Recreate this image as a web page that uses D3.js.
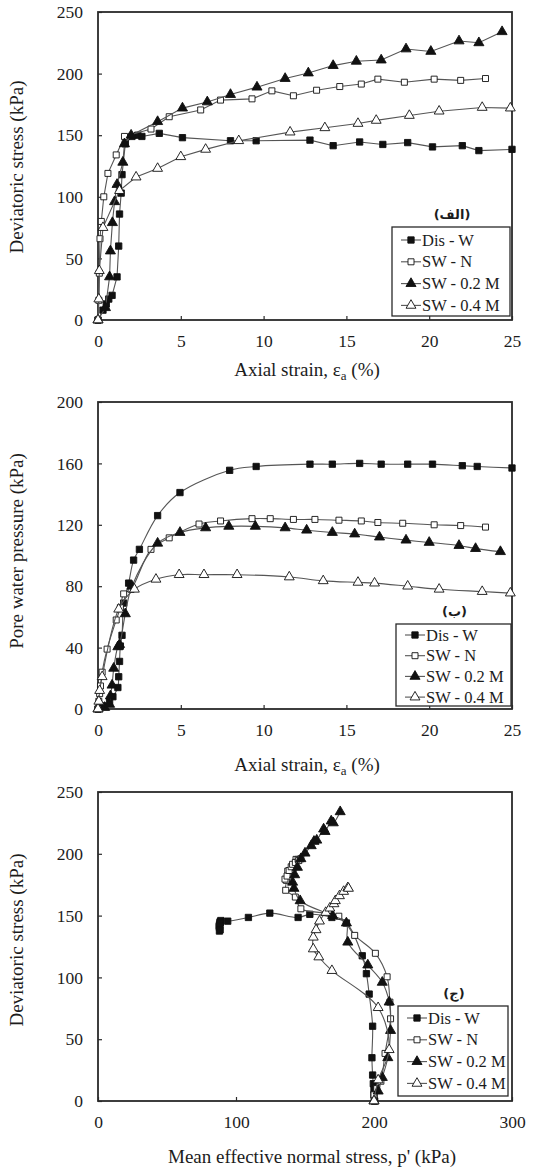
<!DOCTYPE html>
<html>
<head>
<meta charset="utf-8">
<script src="https://cdn.jsdelivr.net/npm/d3@7"></script>
<style>
  body { margin: 0; background: #fff; }
  svg { display: block; }
</style>
</head>
<body>
<svg id="chart" width="535" height="1168"></svg>
<script>
const STRAIN_TICKS = [0, 5, 10, 15, 20, 25];
const Q_TICKS = [0, 50, 100, 150, 200, 250];
const U_TICKS = [0, 40, 80, 120, 160, 200];
const P_TICKS = [0, 100, 200, 300];

const SERIES_NAMES = ["Dis - W", "SW - N", "SW - 0.2 M", "SW - 0.4 M"];
const PANEL_TAGS = ["(الف)", "(ب)", "(ج)"];

// (a) deviatoric stress vs axial strain : [strain %, q kPa]
const qDisW = [[0,0],[0.3,8],[0.5,13],[0.65,17],[0.85,20],[1.15,35],[1.25,60],[1.3,86],[1.4,103],[1.45,118],[1.65,143],[2.05,149],[2.4,150],[2.65,149],[3.7,151.5],[5.1,148],[8.0,145.5],[9.55,145.5],[12.8,146],[14.2,141.5],[15.8,144.5],[17.2,142.5],[18.7,144],[20.2,140.5],[22.0,141.5],[23.0,137.5],[25.0,138.5]];
const qSwN = [[0,0],[0.05,16],[0.08,38],[0.12,66],[0.2,80],[0.35,100],[0.6,119],[1.1,134],[1.6,149],[3.2,155],[4.3,165],[6.2,170.5],[7.4,178.5],[9.3,179.5],[10.5,186],[11.8,182],[13.2,186.5],[14.6,189.5],[15.9,191.5],[16.9,195.5],[18.5,193],[20.3,195.5],[21.9,194.5],[23.4,196]];
const qSw02 = [[0,0],[0.45,10],[0.7,35],[0.75,56],[0.87,79],[1.0,96],[1.15,110],[1.5,128],[1.6,143],[2.0,150],[3.6,161],[5.1,172],[6.6,177],[8.0,183],[9.6,189],[11.3,196],[12.7,200.5],[14.2,206.5],[15.6,210],[17.1,211],[18.6,220],[20.1,218],[21.8,226.5],[23.0,225],[24.4,234]];
const qSw04 = [[0,0],[0.05,17],[0.08,40],[0.3,75],[1.3,105],[2.3,116],[3.6,123],[5.0,132.5],[6.5,138.5],[8.5,145.5],[11.6,152.5],[13.7,156],[15.7,159.5],[16.8,162],[18.8,166],[20.6,169.5],[23.2,172.5],[24.9,172]];

// (b) pore water pressure vs axial strain : [strain %, u kPa]
const uDisW = [[0,0],[0.3,2],[0.7,5],[0.9,8],[1.2,14],[1.25,21],[1.3,31],[1.35,41],[1.45,48],[1.55,69],[1.85,82],[2.15,97],[2.5,104],[3.6,126],[4.95,141],[7.95,155.5],[9.55,158],[12.8,159.5],[14.15,159.5],[15.8,160],[17.1,159.5],[18.7,159.5],[20.2,159.5],[22.0,158.5],[22.9,158],[25.0,157]];
const uSwN = [[0,0],[0.05,5],[0.1,10],[0.15,15],[0.25,24],[0.55,39],[1.1,58],[1.35,66],[1.55,75],[2.0,78],[3.2,104],[4.3,111.5],[6.1,120.5],[7.4,122.5],[9.3,124],[10.4,124],[11.8,123.5],[13.1,123.5],[14.55,123],[15.9,122.5],[16.9,121.5],[18.4,121],[20.3,120],[21.9,119.5],[23.4,118.5]];
const uSw02 = [[0,0],[0.4,1],[0.7,3],[0.75,8.5],[0.85,15.5],[0.95,26.5],[1.2,40.5],[1.3,42],[1.65,62],[2.05,80],[3.6,108],[4.95,115],[6.5,118],[7.9,119],[9.5,119],[11.3,118],[12.6,116.5],[14.15,115],[15.5,114],[17.0,112],[18.6,110],[20.0,108.5],[21.8,106.5],[22.8,104.5],[24.3,102.5]];
const uSw04 = [[0,0],[0.05,5],[0.1,12],[0.25,21],[1.25,65],[2.2,78],[3.5,84.5],[4.9,87.5],[6.4,87.5],[8.4,87.5],[11.55,86],[13.6,83.5],[15.7,82.5],[16.7,82],[18.7,80],[20.6,78],[23.2,76.5],[24.9,75.5]];

// (c) deviatoric stress vs mean effective normal stress : [p' kPa, q kPa]
const pDisW = [[200.5,0],[200,5],[200,9.5],[199.5,14],[199,21],[198.5,35],[199,60.5],[196.5,86.5],[194.5,103],[191.5,117.5],[180,144],[169.5,148.5],[153.5,151],[145,148.5],[124.5,152],[109,148.5],[94,145.5],[89,146],[88.5,145],[88,141.5],[88.5,144.5],[88,142.5],[88.5,144],[88,140.5],[88,141.5],[88,137.5],[88.5,138.5]];
const pSwN = [[200,0],[200,5],[202,10],[205,16],[208,38.5],[212,66.5],[211.5,80],[209.5,100.5],[201,119.5],[186,134],[174.5,149.5],[147,155.5],[143,165],[136,170.5],[136.5,178.5],[135.5,179.5],[137.5,186],[137,182],[138.5,186.5],[140,189.5],[141,191.5],[143.5,195.5],[143,193],[145,195.5],[145.5,194.5],[147,196]];
const pSw02 = [[200,0],[203,8],[206,19],[210,35],[212,57],[211,80],[206,96],[195.5,110],[181,128.5],[180,144],[170,150],[146.5,162],[142,172],[141,177],[142.5,183],[144.5,189],[147,196],[150,200.5],[154.5,206.5],[156.5,210],[158.5,211],[163.5,220],[164.5,218],[169,226.5],[170.5,225],[175.5,234]];
const pSw04 = [[200,0],[203,17],[211,41.5],[203,75.5],[169.5,105.5],[160,116.5],[156,123],[156,132.5],[158,138.5],[160.5,145.5],[165,152.5],[168,156],[171,159.5],[172,162],[175,166],[178,169.5],[181,172.5],[181.5,172]];

const PLOT_LEFT = 98;
const PLOT_RIGHT = 512;
const FONT = "'Liberation Serif', 'Times New Roman', serif";
const ARABIC_FONT = "'DejaVu Sans', sans-serif";
const INK = "#1c1c1c";
const FRAME = "#2a2a2a";
const LINE_COLOR = "#555";

const MARKER_STYLES = [
  { shape: d3.symbolSquare, size: 40, fill: "#111" },
  { shape: d3.symbolSquare, size: 36, fill: "#fff" },
  { shape: d3.symbolTriangle, size: 44, fill: "#111" },
  { shape: d3.symbolTriangle, size: 42, fill: "#fff" }
];

const svg = d3.select("#chart");

function drawMarker(sel, i) {
  sel.attr("d", d3.symbol(MARKER_STYLES[i].shape, MARKER_STYLES[i].size))
    .attr("fill", MARKER_STYLES[i].fill)
    .attr("stroke", "#111")
    .attr("stroke-width", 0.9);
}

function drawLegend(g, box, tag) {
  g.append("text")
    .attr("x", box.x + box.w / 2 + 1)
    .attr("y", box.y - 8)
    .attr("text-anchor", "middle")
    .attr("fill", INK)
    .style("font-family", ARABIC_FONT)
    .style("font-weight", "bold")
    .style("font-size", "13px")
    .text(tag);

  g.append("rect")
    .attr("x", box.x).attr("y", box.y)
    .attr("width", box.w).attr("height", box.h)
    .attr("fill", "#fff")
    .attr("stroke", FRAME)
    .attr("stroke-width", 1.3);

  const row = g.selectAll("g.row")
    .data(SERIES_NAMES)
    .join("g")
    .attr("class", "row")
    .attr("transform", (d, i) => `translate(${box.x}, ${box.y + box.first + i * box.step})`);

  row.append("line")
    .attr("x1", 9).attr("x2", 29)
    .attr("stroke", LINE_COLOR)
    .attr("stroke-width", 1.1);

  row.append("path")
    .attr("transform", "translate(19,0)")
    .each(function (d, i) { drawMarker(d3.select(this), i); });

  row.append("text")
    .attr("x", 30)
    .attr("dy", "0.34em")
    .attr("fill", INK)
    .style("font-family", FONT)
    .style("font-size", "16.5px")
    .text(d => d);
}

function drawPanel(p) {
  const x = d3.scaleLinear()
    .domain([p.xTicks[0], p.xTicks[p.xTicks.length - 1]])
    .range([PLOT_LEFT, PLOT_RIGHT]);
  const y = d3.scaleLinear()
    .domain([p.yTicks[0], p.yTicks[p.yTicks.length - 1]])
    .range([p.bottom, p.top]);

  const g = svg.append("g");

  const xAxis = g.append("g")
    .attr("transform", `translate(0,${p.bottom})`)
    .call(d3.axisBottom(x).tickValues(p.xTicks).tickSize(-4));
  g.append("g")
    .attr("transform", `translate(${PLOT_LEFT},0)`)
    .call(d3.axisLeft(y).tickValues(p.yTicks).tickSize(-4).tickPadding(15));

  g.selectAll(".domain").remove();
  g.selectAll(".tick line").attr("stroke", FRAME).attr("stroke-width", 1.2);
  g.selectAll(".tick text")
    .attr("fill", INK)
    .style("font-family", FONT)
    .style("font-size", "17.5px");
  xAxis.selectAll(".tick text").attr("y", 27).attr("dy", null);

  g.append("rect")
    .attr("x", PLOT_LEFT).attr("y", p.top)
    .attr("width", PLOT_RIGHT - PLOT_LEFT)
    .attr("height", p.bottom - p.top)
    .attr("fill", "none")
    .attr("stroke", FRAME)
    .attr("stroke-width", 1.8);

  // y title
  g.append("text")
    .attr("transform", `translate(23,${p.yTitleY}) rotate(-90)`)
    .attr("text-anchor", "middle")
    .attr("fill", INK)
    .style("font-family", FONT)
    .style("font-size", "19px")
    .text(p.yTitle);

  // x title (with optional subscript)
  const xt = g.append("text")
    .attr("x", p.xTitleX)
    .attr("y", p.xTitleY)
    .attr("text-anchor", "middle")
    .attr("fill", INK)
    .style("font-family", FONT)
    .style("font-size", "19px");
  if (p.xSub) {
    xt.append("tspan").text(p.xTitle[0]);
    xt.append("tspan").attr("dy", 4).style("font-size", "13px").text(p.xSub);
    xt.append("tspan").attr("dy", -4).text(p.xTitle[1]);
  } else {
    xt.text(p.xTitle);
  }

  const line = d3.line()
    .x(d => x(d[0]))
    .y(d => y(d[1]))
    .curve(p.curve);

  p.series.forEach((data, i) => {
    g.append("path")
      .datum(data)
      .attr("d", line)
      .attr("fill", "none")
      .attr("stroke", LINE_COLOR)
      .attr("stroke-width", 1.1);

    g.append("g")
      .selectAll("path")
      .data(data)
      .join("path")
      .attr("transform", d => `translate(${x(d[0])},${y(d[1])})`)
      .call(sel => drawMarker(sel, i));
  });

  // legend sits on top of the curves
  drawLegend(g, p.legend, p.tag);
}

drawPanel({
  top: 12, bottom: 320,
  xTicks: STRAIN_TICKS, yTicks: Q_TICKS,
  series: [qDisW, qSwN, qSw02, qSw04],
  curve: d3.curveLinear,
  yTitle: "Deviatoric stress (kPa)", yTitleY: 167,
  xTitle: ["Axial strain, ε", " (%)"], xSub: "a", xTitleX: 307, xTitleY: 376,
  legend: { x: 392, y: 227, w: 118, h: 89, first: 13, step: 21.8 },
  tag: PANEL_TAGS[0]
});

drawPanel({
  top: 402, bottom: 709,
  xTicks: STRAIN_TICKS, yTicks: U_TICKS,
  series: [uDisW, uSwN, uSw02, uSw04],
  curve: d3.curveCatmullRom.alpha(0.5),
  yTitle: "Pore water pressure (kPa)", yTitleY: 551,
  xTitle: ["Axial strain, ε", " (%)"], xSub: "a", xTitleX: 307, xTitleY: 771,
  legend: { x: 396, y: 624, w: 115, h: 82, first: 11, step: 20.7 },
  tag: PANEL_TAGS[1]
});

drawPanel({
  top: 792, bottom: 1101,
  xTicks: P_TICKS, yTicks: Q_TICKS,
  series: [pDisW, pSwN, pSw02, pSw04],
  curve: d3.curveCatmullRom.alpha(0.5),
  yTitle: "Deviatoric stress (kPa)", yTitleY: 940,
  xTitle: "Mean effective normal stress, p' (kPa)", xTitleX: 312, xTitleY: 1163,
  legend: { x: 398, y: 1006, w: 110, h: 90, first: 12, step: 21.8 },
  tag: PANEL_TAGS[2]
});
</script>
</body>
</html>
